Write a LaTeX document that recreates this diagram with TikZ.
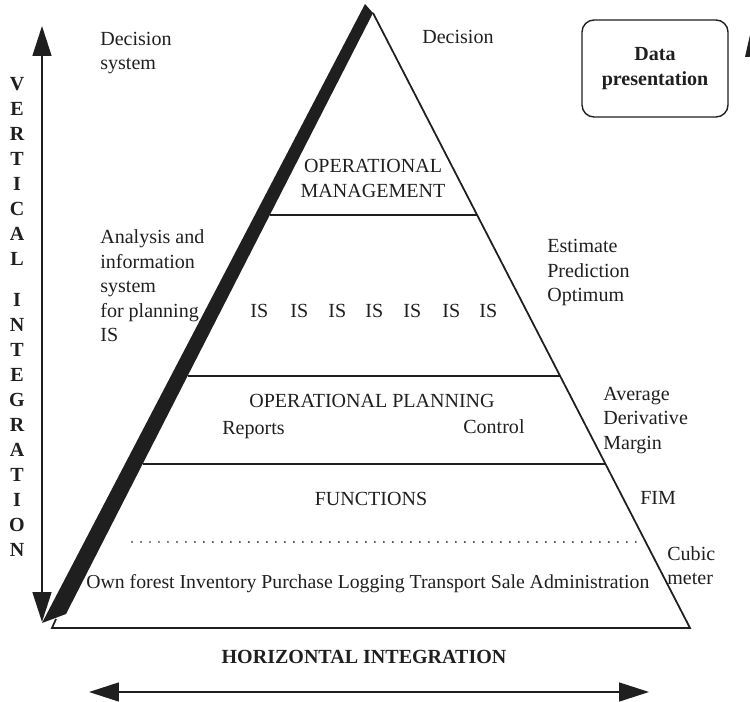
\documentclass[tikz,border=0pt]{standalone}
\usepackage{fontspec}
\setmainfont{Liberation Serif}
\usepackage{tikz}
\usetikzlibrary{arrows.meta}

\definecolor{ink}{gray}{0.12}

\begin{document}
\begin{tikzpicture}[x=0.02cm,y=-0.02cm,
  lbl/.style={inner sep=0pt,text=ink,align=left,font=\fontsize{11.4}{13.9}\selectfont},
  bold/.style={lbl,font=\fontsize{11.4}{14.2}\selectfont\bfseries},
  level/.style={draw=ink,line width=0.8pt},
  bigarrow/.style={draw=ink,line width=0.9pt,{Triangle[length=0.6cm,width=0.38cm]}-{Triangle[length=0.6cm,width=0.38cm]}}]
\useasboundingbox (0,0) rectangle (750,702);

% pyramid: thick left side, thin right side and base
\fill[ink] (365,4) -- (42,623) -- (66,614) -- (373,13) -- cycle;
\draw[ink,line width=1pt,line join=miter] (373,13) -- (690,628) -- (52,628) -- (56,619);
\draw[level] (270,215) -- (477,215);
\draw[level] (188,376) -- (560,376);
\draw[level] (143,464) -- (605,464);
\draw[level,line width=1.1pt,line cap=round,dash pattern=on 0.01pt off 5.11pt] (132,542) -- (636,542);

% integration arrows
\coordinate (vtop) at (42,26);
\coordinate (vbot) at (42,622);
\draw[bigarrow] (vbot) -- (vtop);
\coordinate (hleft) at (89,692);
\coordinate (hright) at (649,692);
\draw[bigarrow] (hleft) -- (hright);
\fill[ink] (745,57) -- (750,35) -- (750,57) -- cycle;

\node[bold,align=center,anchor=north] (vert) at (17,77.5) {V\\E\\R\\T\\I\\C\\A\\L};
\node[bold,align=center,anchor=north] (integ) at (17,293.4) {I\\N\\T\\E\\G\\R\\A\\T\\I\\O\\N};
\node[bold,anchor=base] (horiz) at (364,663) {HORIZONTAL INTEGRATION};

% left column
\node[lbl,anchor=north west] (decsys) at (100,31.5) {Decision\\system};
\node[lbl,anchor=north west] (anis) at (100,229.5) {Analysis and\\information\\system\\for planning\\IS};

% inside the pyramid
\node[lbl,align=center,anchor=north] (opman) at (373,159) {OPERATIONAL\\MANAGEMENT};
\node[lbl,anchor=base west] (is1) at (250,317) {IS};
\node[lbl,anchor=base west] (is2) at (290,317) {IS};
\node[lbl,anchor=base west] (is3) at (328,317) {IS};
\node[lbl,anchor=base west] (is4) at (365,317) {IS};
\node[lbl,anchor=base west] (is5) at (403,317) {IS};
\node[lbl,anchor=base west] (is6) at (442,317) {IS};
\node[lbl,anchor=base west] (is7) at (479,317) {IS};
\node[lbl,anchor=base] (opplan) at (372,407) {OPERATIONAL PLANNING};
\node[lbl,anchor=base west] (reports) at (222,434) {Reports};
\node[lbl,anchor=base west] (control) at (463,433) {Control};
\node[lbl,anchor=base] (func) at (371,505) {FUNCTIONS};
\node[lbl,anchor=base west,font=\fontsize{11.25}{13.9}\selectfont] (tasks) at (86,588) {Own forest Inventory Purchase Logging Transport Sale Administration};

% right column
\node[lbl,anchor=base west] (dec) at (422,44) {Decision};
\node[bold,align=center,draw=ink,line width=0.8pt,rounded corners=0.24cm,
  minimum width=2.92cm,minimum height=1.94cm] (data) at (655,68.5) {Data\\presentation};
\node[lbl,anchor=north west] (estim) at (547,239) {Estimate\\Prediction\\Optimum};
\node[lbl,anchor=north west] (aver) at (603,387) {Average\\Derivative\\Margin};
\node[lbl,anchor=base west] (fim) at (640,504) {FIM};
\node[lbl,anchor=north west] (cubic) at (667,546) {Cubic\\meter};
\end{tikzpicture}
\end{document}
